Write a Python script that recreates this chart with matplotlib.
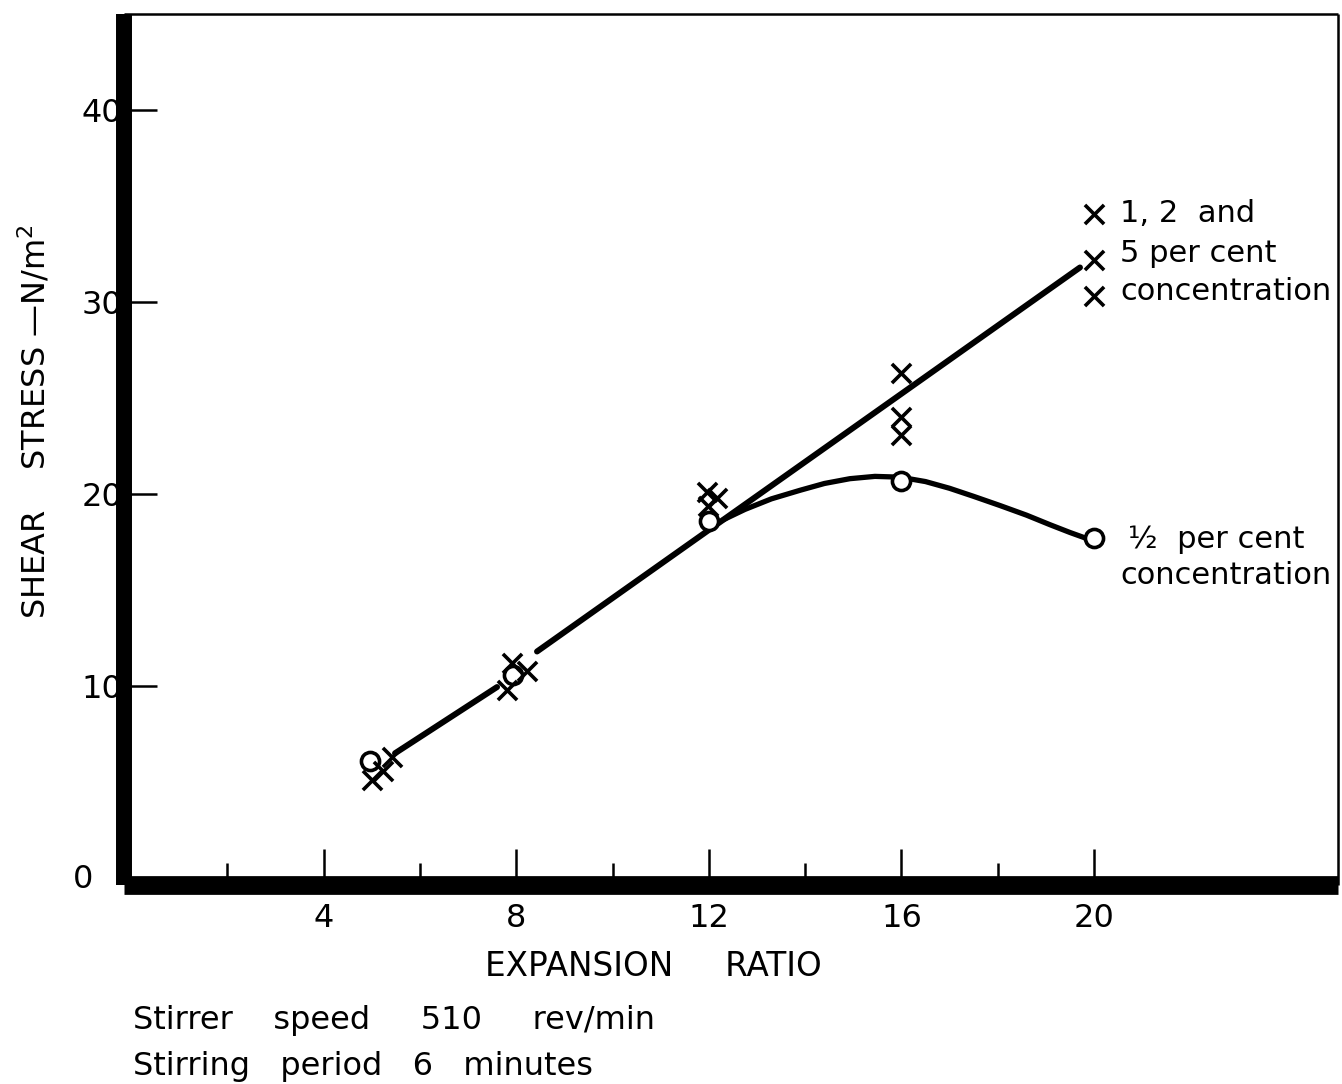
import matplotlib
matplotlib.use("Agg")
import matplotlib.pyplot as plt

# Measured shear stress (N/m^2) against expansion ratio
conc_125_x = [5.0, 5.23, 5.42, 7.81, 7.91, 8.22, 11.96, 12.17, 11.98,
              16.0, 16.0, 16.0, 20.0, 20.0, 20.0]
conc_125_y = [5.1, 5.6, 6.3, 9.8, 11.2, 10.8, 20.1, 19.8, 19.4,
              26.3, 24.0, 23.1, 34.6, 32.2, 30.3]
conc_half_x = [4.96, 7.93, 12.0, 16.0, 20.0]
conc_half_y = [6.1, 10.6, 18.6, 20.7, 17.7]

# Hand-drawn trend lines
trend_a_x = [5.48, 7.6]
trend_a_y = [6.5, 9.95]
trend_b_x = [8.43, 19.71]
trend_b_y = [11.8, 31.8]
half_curve_x = [12.3, 12.75, 13.3, 13.9, 14.4, 14.93, 15.45, 15.97, 16.5,
                17.0, 17.5, 18.05, 18.6, 19.09, 19.5, 19.81]
half_curve_y = [18.66, 19.2, 19.75, 20.2, 20.55, 20.8, 20.92, 20.88, 20.65,
                20.3, 19.88, 19.4, 18.9, 18.4, 18.0, 17.72]

x_major = [4, 8, 12, 16, 20]
x_minor = [2, 6, 10, 14, 18]
y_major = [10, 20, 30, 40]

plt.rcParams['font.family'] = ['DejaVu Sans']
fig = plt.figure(figsize=(13.42, 10.84), dpi=100)
ax = fig.add_axes([124 / 1342, 1 - 885 / 1084, (1338 - 124) / 1342, (885 - 14) / 1084])
ax.set_xlim(-0.15, 25.07)
ax.set_ylim(-0.36, 45.0)

lw_line = 4.3
ax.plot(trend_a_x, trend_a_y, color='black', lw=lw_line, solid_capstyle='round', zorder=2)
ax.plot(trend_b_x, trend_b_y, color='black', lw=lw_line, solid_capstyle='round', zorder=2)
ax.plot(half_curve_x, half_curve_y, color='black', lw=3.8, solid_capstyle='round',
        solid_joinstyle='round', zorder=2)

ax.scatter(conc_125_x, conc_125_y, marker='x', s=190, color='black', linewidths=2.6, zorder=4)
ax.scatter(conc_half_x, conc_half_y, marker='o', s=170, facecolors='white',
           edgecolors='black', linewidths=2.6, zorder=3)

# Spines: heavy left and bottom, light top and right
for side, w in (('left', 11.5), ('bottom', 13.5), ('top', 1.8), ('right', 1.8)):
    ax.spines[side].set_linewidth(w)
    ax.spines[side].set_color('black')
    ax.spines[side].set_capstyle('butt')

ax.set_xticks(x_major)
ax.set_xticks(x_minor, minor=True)
ax.set_yticks(y_major)
ax.tick_params(axis='x', which='major', direction='in', length=26, width=1.8,
               labelsize=23, pad=13)
ax.tick_params(axis='x', which='minor', direction='in', length=16, width=1.8)
ax.tick_params(axis='y', which='major', direction='in', length=24, width=1.8,
               labelsize=23, pad=1)
ax.tick_params(axis='y', which='minor', left=False)

ax.annotate('0', xy=(0, 0), xycoords='data', xytext=(-35, -1), textcoords='offset points',
            ha='center', va='center', fontsize=23, annotation_clip=False)

fig.text(653 / 1342, 1 - 967 / 1084, 'EXPANSION     RATIO', ha='center', va='center',
         fontsize=23.5)
fig.text(35 / 1342, 1 - 422 / 1084, 'SHEAR    STRESS —N/m$^2$', rotation=90,
         ha='center', va='center', fontsize=23)

# Series labels beside the right-hand points
lab_kw = dict(fontsize=22, ha='left', va='center')
fig.text(1120 / 1342, 1 - 214 / 1084, '1, 2  and', **lab_kw)
fig.text(1120 / 1342, 1 - 253 / 1084, '5 per cent', **lab_kw)
fig.text(1120 / 1342, 1 - 292 / 1084, 'concentration', **lab_kw)
fig.text(1128 / 1342, 1 - 540 / 1084, '½  per cent', **lab_kw)
fig.text(1120 / 1342, 1 - 576 / 1084, 'concentration', **lab_kw)

note_kw = dict(fontsize=23, ha='left', va='center')
fig.text(133 / 1342, 1 - 1020 / 1084, 'Stirrer    speed     510     rev/min', **note_kw)
fig.text(133 / 1342, 1 - 1066 / 1084, 'Stirring   period   6   minutes', **note_kw)

fig.savefig('out.png', dpi=100, facecolor='white')
